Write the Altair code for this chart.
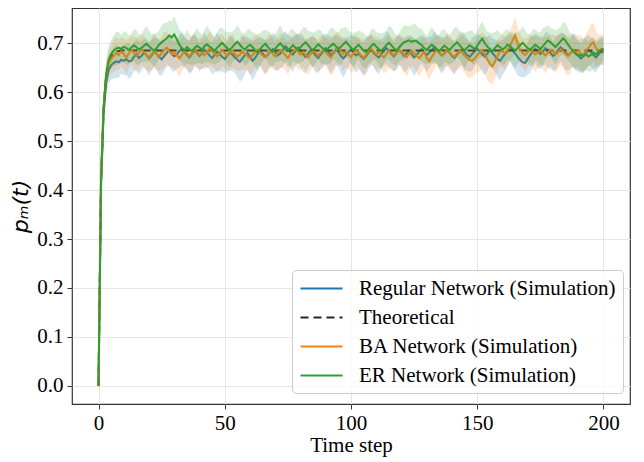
import altair as alt
import pandas as pd

# ---------------- data (values in thousandths) ----------------
steps = list(range(201))

regular = [
    0, 405, 555, 618, 645, 655, 660, 663, 661, 666,
    664, 668, 663, 664, 672, 678, 670, 674, 681, 676,
    669, 675, 683, 678, 672, 667, 674, 680, 686, 679,
    673, 677, 684, 690, 682, 676, 671, 678, 685, 680,
    674, 679, 687, 681, 675, 670, 676, 683, 678, 672,
    668, 675, 681, 677, 671, 666, 662, 669, 676, 680,
    673, 664, 670, 678, 684, 679, 672, 676, 683, 688,
    682, 675, 679, 686, 694, 689, 681, 677, 684, 691,
    685, 678, 672, 679, 686, 681, 675, 670, 677, 684,
    690, 683, 676, 680, 687, 682, 674, 669, 675, 682,
    688, 681, 675, 679, 673, 668, 674, 681, 687, 680,
    675, 671, 678, 684, 690, 685, 678, 673, 680, 686,
    681, 674, 679, 685, 678, 671, 676, 683, 688, 682,
    676, 681, 686, 692, 687, 680, 675, 679, 685, 681,
    674, 670, 677, 683, 688, 682, 676, 672, 678, 684,
    689, 683, 677, 673, 679, 686, 680, 674, 668, 664,
    671, 678, 684, 691, 685, 679, 672, 666, 661, 660,
    668, 676, 683, 689, 684, 678, 683, 690, 686, 680,
    674, 679, 686, 692, 687, 681, 676, 680, 686, 681,
    675, 669, 673, 680, 686, 682, 676, 671, 677, 683,
    681,
]

ba = [
    0, 430, 572, 632, 658, 668, 674, 680, 676, 683,
    678, 671, 679, 686, 681, 675, 680, 687, 682, 676,
    671, 678, 684, 679, 673, 680, 686, 691, 684, 677,
    682, 675, 669, 676, 684, 679, 673, 680, 688, 682,
    676, 681, 675, 683, 689, 684, 678, 673, 680, 686,
    680, 674, 679, 685, 678, 672, 677, 683, 679, 674,
    669, 676, 682, 687, 681, 675, 671, 678, 684, 679,
    673, 679, 686, 681, 676, 670, 677, 683, 688, 683,
    677, 682, 676, 671, 678, 685, 680, 674, 681, 687,
    682, 676, 671, 678, 685, 691, 684, 678, 682, 677,
    672, 679, 686, 681, 675, 670, 677, 684, 689, 683,
    677, 682, 676, 671, 678, 685, 680, 675, 681, 687,
    683, 677, 671, 678, 685, 680, 674, 669, 676, 682,
    670, 663, 672, 680, 686, 681, 675, 680, 687, 682,
    676, 672, 679, 686, 681, 675, 670, 666, 664, 669,
    676, 681, 686, 678, 667, 658, 653, 662, 674, 683,
    684, 679, 686, 695, 706, 716, 699, 686, 680, 676,
    682, 688, 683, 677, 681, 686, 680, 675, 681, 687,
    683, 677, 682, 688, 684, 678, 674, 680, 686, 681,
    685, 679, 676, 683, 690, 698, 702, 690, 684, 688,
    686,
]

er = [
    0, 420, 566, 636, 666, 678, 685, 689, 691, 688,
    693, 690, 686, 691, 696, 692, 687, 690, 695, 699,
    694, 689, 685, 690, 697, 702, 706, 710, 716, 712,
    718, 708, 697, 690, 686, 692, 688, 684, 690, 695,
    691, 687, 694, 698, 693, 689, 685, 691, 696, 701,
    695, 690, 686, 692, 698, 703, 697, 691, 687, 693,
    697, 692, 686, 681, 688, 694, 699, 693, 687, 683,
    689, 695, 700, 694, 688, 684, 690, 696, 691, 686,
    692, 697, 702, 696, 690, 686, 692, 698, 693, 689,
    684, 690, 695, 699, 694, 688, 693, 698, 703, 697,
    691, 686, 692, 697, 691, 685, 682, 688, 694, 699,
    693, 688, 684, 690, 696, 701, 696, 690, 685, 691,
    697, 702, 704, 706, 703, 705, 704, 700, 696, 690,
    686, 692, 697, 693, 688, 684, 690, 695, 691, 686,
    692, 697, 702, 696, 690, 685, 691, 696, 692, 688,
    695, 703, 709, 700, 693, 688, 684, 690, 696, 692,
    687, 691, 697, 694, 689, 685, 690, 696, 701, 695,
    690, 686, 692, 697, 693, 688, 694, 700, 706, 702,
    697, 692, 698, 704, 710, 705, 697, 690, 684, 678,
    675, 676, 674, 678, 673, 676, 681, 677, 683, 686,
    689,
]

regular_sd = [
    0, 28, 27, 26, 27, 29, 32, 34, 31, 28,
    30, 33, 36, 32, 29, 31, 34, 30, 28, 32,
    35, 31, 29, 33, 37, 34, 30, 28, 32, 35,
    31, 29, 33, 36, 32, 30, 34, 37, 33, 30,
    28, 32, 35, 31, 29, 33, 36, 39, 34, 31,
    29, 33, 37, 34, 32, 36, 40, 43, 38, 33,
    36, 40, 37, 33, 30, 32, 35, 31, 29, 33,
    36, 32, 30, 34, 31, 29, 33, 36, 32, 30,
    34, 37, 33, 30, 28, 32, 35, 31, 29, 33,
    30, 34, 37, 33, 30, 32, 36, 39, 35, 31,
    29, 33, 36, 32, 30, 34, 37, 33, 31, 28,
    32, 35, 31, 29, 33, 36, 32, 30, 34, 31,
    29, 33, 36, 32, 35, 38, 34, 31, 29, 32,
    35, 31, 29, 33, 30, 34, 37, 33, 31, 29,
    32, 35, 31, 29, 33, 36, 32, 30, 34, 31,
    29, 33, 36, 39, 35, 32, 30, 34, 37, 40,
    36, 33, 31, 29, 32, 35, 38, 34, 31, 29,
    33, 36, 32, 30, 34, 31, 29, 33, 36, 32,
    30, 34, 31, 29, 33, 36, 32, 30, 34, 37,
    33, 30, 32, 35, 31, 29, 33, 30, 28, 27,
    26,
]

ba_sd = [
    0, 30, 28, 27, 28, 30, 33, 35, 31, 29,
    32, 35, 31, 29, 33, 36, 32, 30, 34, 31,
    29, 33, 36, 32, 30, 34, 37, 33, 31, 28,
    32, 35, 38, 34, 31, 29, 33, 36, 32, 30,
    34, 31, 29, 33, 36, 32, 30, 34, 37, 33,
    31, 29, 32, 35, 31, 29, 33, 36, 32, 30,
    34, 37, 33, 31, 29, 32, 35, 38, 34, 31,
    29, 33, 36, 32, 30, 34, 31, 29, 33, 36,
    32, 30, 34, 37, 33, 31, 29, 32, 35, 31,
    29, 33, 36, 39, 35, 32, 30, 34, 31, 29,
    33, 36, 32, 30, 34, 37, 33, 31, 29, 32,
    35, 31, 29, 33, 36, 32, 30, 34, 31, 29,
    33, 36, 39, 35, 32, 30, 34, 37, 33, 31,
    34, 38, 35, 32, 30, 34, 31, 29, 33, 36,
    32, 30, 34, 37, 33, 36, 39, 37, 34, 32,
    35, 38, 36, 39, 42, 40, 37, 34, 32, 30,
    33, 36, 32, 30, 34, 37, 35, 32, 30, 34,
    31, 29, 33, 36, 32, 30, 34, 37, 33, 31,
    35, 38, 34, 32, 36, 39, 41, 37, 34, 31,
    33, 36, 32, 35, 38, 41, 39, 36, 33, 31,
    30,
]

er_sd = [
    0, 29, 27, 26, 27, 29, 31, 34, 32, 29,
    31, 34, 30, 28, 32, 35, 31, 29, 33, 36,
    32, 30, 34, 31, 29, 33, 36, 32, 30, 34,
    37, 33, 31, 29, 32, 35, 31, 29, 33, 36,
    32, 30, 34, 37, 33, 31, 29, 32, 35, 31,
    29, 33, 36, 32, 30, 34, 31, 29, 33, 36,
    32, 30, 34, 37, 33, 31, 29, 32, 35, 31,
    29, 33, 36, 32, 30, 34, 37, 33, 31, 29,
    32, 35, 31, 29, 33, 36, 32, 30, 34, 31,
    29, 33, 36, 32, 30, 34, 37, 33, 31, 29,
    32, 35, 31, 29, 33, 36, 32, 30, 34, 31,
    29, 33, 36, 32, 30, 34, 37, 33, 31, 29,
    32, 35, 31, 29, 33, 36, 32, 30, 34, 31,
    29, 33, 36, 32, 30, 34, 37, 33, 31, 29,
    32, 35, 31, 29, 33, 36, 32, 30, 34, 31,
    29, 33, 36, 32, 30, 34, 37, 33, 31, 29,
    32, 35, 31, 29, 33, 36, 32, 30, 34, 31,
    29, 33, 36, 32, 30, 34, 37, 33, 31, 29,
    32, 35, 31, 29, 33, 36, 32, 30, 34, 31,
    29, 33, 36, 32, 30, 34, 31, 29, 28, 27,
    26,
]

theory_t = [0, 1, 2, 3, 4, 5, 6, 7, 8, 9, 10, 200]
theory_v = [0.0, 0.42, 0.565, 0.63, 0.66, 0.674, 0.68, 0.683, 0.684, 0.685, 0.685, 0.685]

names = ["Regular Network (Simulation)", "Theoretical",
         "BA Network (Simulation)", "ER Network (Simulation)"]
colors = ["#1f77b4", "#262626", "#ff7f0e", "#2ca02c"]
dashes = [[1, 0], [8, 5], [1, 0], [1, 0]]

for arr in (regular, ba, er, regular_sd, ba_sd, er_sd):
    assert len(arr) == len(steps), len(arr)

rows = []
for name, vals, sds in ((names[0], regular, regular_sd),
                        (names[2], ba, ba_sd),
                        (names[3], er, er_sd)):
    for t, v, s in zip(steps, vals, sds):
        rows.append({"t": t, "v": v / 1000, "lo": (v - s) / 1000,
                     "hi": (v + s) / 1000, "series": name})
sim = pd.DataFrame(rows)
theo = pd.DataFrame({"t": theory_t, "v": theory_v, "series": names[1]})

SERIF = "Liberation Serif"
FS = 21

xscale = alt.Scale(domain=[-10.5, 210.5], nice=False, zero=False)
yscale = alt.Scale(domain=[-0.037, 0.772], nice=False, zero=False)

xaxis = alt.Axis(values=[0, 50, 100, 150, 200], title="Time step",
                 labelFont=SERIF, labelFontSize=FS, labelColor="black",
                 titleFont=SERIF, titleFontSize=FS, titleFontWeight="normal",
                 titleColor="black", titlePadding=1, labelPadding=3,
                 tickSize=5, tickColor="#333", domain=False,
                 gridColor="#e6e6e6", labelFlush=False)
yaxis = alt.Axis(values=[0, 0.1, 0.2, 0.3, 0.4, 0.5, 0.6, 0.7], format=".1f",
                 title="pₘ(t)", labelFont=SERIF, labelFontSize=FS,
                 labelColor="black", titleFont="DejaVu Sans",
                 titleFontStyle="italic", titleFontWeight="normal",
                 titleFontSize=22, titleColor="black", titlePadding=4,
                 labelPadding=4, tickSize=5, tickColor="#333", domain=False,
                 gridColor="#e6e6e6")

legend = alt.Legend(title=None, orient="none", legendX=220, legendY=262,
                    labelFont=SERIF, labelFontSize=FS, labelColor="black",
                    symbolType="M-2,0H2", symbolSize=441, symbolStrokeWidth=2,
                    symbolOffset=11, padding=7, labelOffset=26, rowPadding=7,
                    fillColor="rgba(255,255,255,0.8)", strokeColor="#cccccc",
                    cornerRadius=4, labelLimit=400)

color = alt.Color("series:N", scale=alt.Scale(domain=names, range=colors), legend=legend)
dash = alt.StrokeDash("series:N", scale=alt.Scale(domain=names, range=dashes), legend=legend)


def band(name, col):
    return alt.Chart(sim).transform_filter(alt.datum.series == name).mark_area(
        opacity=0.2, color=col).encode(
        x=alt.X("t:Q", scale=xscale, axis=xaxis),
        y=alt.Y("lo:Q", scale=yscale, axis=yaxis),
        y2="hi:Q")


def line(df, name):
    return alt.Chart(df).transform_filter(alt.datum.series == name).mark_line(
        strokeWidth=2).encode(
        x=alt.X("t:Q", scale=xscale, axis=xaxis),
        y=alt.Y("v:Q", scale=yscale, axis=yaxis),
        color=color, strokeDash=dash)


chart = alt.layer(
    band(names[0], colors[0]), line(sim, names[0]),
    line(theo, names[1]),
    band(names[2], colors[2]), line(sim, names[2]),
    band(names[3], colors[3]), line(sim, names[3]),
).properties(
    width=558, height=396,
    autosize=alt.AutoSizeParams(type="none"),
    padding={"left": 64, "top": 0, "right": 6, "bottom": 58},
).configure_view(stroke="#333", strokeWidth=1.2)

chart.save("out.html", embed_options={"renderer": "svg", "actions": False})
